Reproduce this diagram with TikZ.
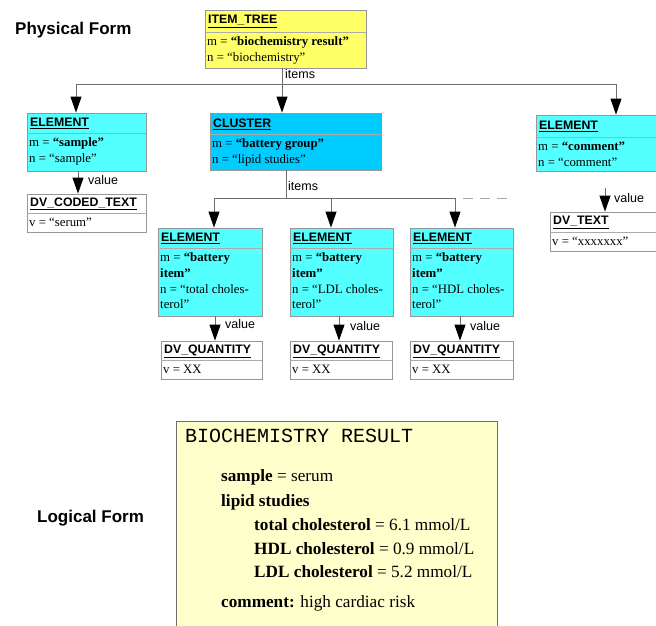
\documentclass[tikz,border=0pt]{standalone}
\usepackage{fontspec}
\setmainfont{Liberation Serif}
\setsansfont{Liberation Sans}
\setmonofont{Liberation Mono}
\usetikzlibrary{arrows.meta}

\definecolor{cyanelem}{RGB}{84,255,255}
\definecolor{cyanclus}{RGB}{0,204,255}
\definecolor{yellowtree}{RGB}{255,255,102}
\definecolor{paleyellow}{RGB}{255,255,204}
\definecolor{edgegray}{RGB}{150,150,150}
\definecolor{linegray}{RGB}{110,110,110}

\tikzset{
  box/.style={draw=edgegray, line width=0.8pt, rectangle, inner sep=0pt},
  sepline/.style={draw=edgegray!80, line width=0.7pt},
  hdr/.style={font=\sffamily\bfseries\fontsize{12.3}{14}\selectfont, inner sep=0pt, anchor=west},
  body/.style={font=\fontsize{12.8}{15.8}\selectfont, align=left, inner sep=0pt, anchor=north west},
  lbl/.style={font=\sffamily\fontsize{12.5}{14}\selectfont, inner sep=0pt, anchor=west},
  title/.style={font=\sffamily\bfseries\fontsize{17}{20}\selectfont, inner sep=0pt, anchor=west},
  conn/.style={draw=linegray, line width=0.9pt},
  arr/.style={conn, -{Triangle[length=16pt,width=11pt,color=black]}},
  lform/.style={font=\fontsize{17.2}{20}\selectfont, inner sep=0pt, anchor=base west},
}

% #1 name, #2 x1, #3 y1, #4 x2, #5 y2, #6 separator y, #7 fill, #8 header, #9 body
\newcommand\classbox[9]{%
  \node[box, fill=#7, minimum width={#4-#2}, minimum height={#5-#3}]
    (#1) at ({(#2+#4)/2},{(#3+#5)/2}) {};
  \draw[sepline] (#2,#6) -- (#4,#6);
  \node[hdr] (#1-h) at ({#2+3},{(#3+#6)/2+0.5}) {\underline{#8}};
  \node[body] (#1-b) at ({#2+2},{#6+4.5}) {#9};
}

\begin{document}
\begin{tikzpicture}[x=1pt,y=-1pt]
\useasboundingbox (0,0) rectangle (656,626);

% titles
\node[title] (phys) at (15,30) {Physical Form};
\node[title] (logi) at (37,518) {Logical Form};

% physical form boxes
\classbox{itree}{205}{10}{366}{68}{32}{yellowtree}{ITEM\_TREE}
  {m = \textbf{“biochemistry result”}\\n = “biochemistry”}
\classbox{esample}{27}{113}{146}{171}{133}{cyanelem}{ELEMENT}
  {m = \textbf{“sample”}\\n = “sample”}
\classbox{cluster}{210}{113}{381}{170}{134}{cyanclus}{CLUSTER}
  {m = \textbf{“battery group”}\\n = “lipid studies”}
\classbox{ecomment}{536}{115}{662}{171}{137}{cyanelem}{ELEMENT}
  {m = \textbf{“comment”}\\n = “comment”}
\classbox{dvcoded}{27}{194}{146}{232}{213}{white}{DV\_CODED\_TEXT}
  {v = “serum”}
\classbox{dvtext}{550}{212}{662}{251}{232}{white}{DV\_TEXT}
  {v = “xxxxxxx”}
\classbox{etotal}{158}{228}{262}{316}{248}{cyanelem}{ELEMENT}
  {m = \textbf{“battery}\\\textbf{item”}\\n = “total choles-\\terol”}
\classbox{eldl}{290}{228}{393}{316}{248}{cyanelem}{ELEMENT}
  {m = \textbf{“battery}\\\textbf{item”}\\n = “LDL choles-\\terol”}
\classbox{ehdl}{410}{228}{513}{316}{248}{cyanelem}{ELEMENT}
  {m = \textbf{“battery}\\\textbf{item”}\\n = “HDL choles-\\terol”}
\classbox{qtotal}{161}{341}{262}{379}{360}{white}{DV\_QUANTITY}{v = XX}
\classbox{qldl}{290}{341}{392}{379}{360}{white}{DV\_QUANTITY}{v = XX}
\classbox{qhdl}{410}{341}{513}{379}{360}{white}{DV\_QUANTITY}{v = XX}

% items of the item tree
\coordinate (bus1) at (282,84);
\coordinate (bus1l) at (76,84);
\coordinate (bus1r) at (616,84);
\draw[conn] (itree.south -| bus1) -- (bus1);
\draw[conn] (bus1l) -- (bus1r);
\draw[arr] (bus1l) -- (esample.north -| bus1l);
\draw[arr] (bus1) -- (cluster.north -| bus1);
\draw[arr] (bus1r) -- (ecomment.north -| bus1r);
\node[lbl] (items1) at (285,74) {items};

% items of the cluster
\coordinate (bus2) at (286,198);
\coordinate (bus2a) at (214,198);
\coordinate (bus2b) at (331,198);
\coordinate (bus2c) at (455,198);
\coordinate (bus2d) at (512,198);
\draw[conn] (cluster.south -| bus2) -- (bus2);
\draw[conn] (bus2a) -- (bus2c);
\draw[conn, draw=linegray!60, dash pattern=on 10pt off 7pt] ([xshift=8pt]bus2c) -- (bus2d);
\draw[arr] (bus2a) -- (etotal.north -| bus2a);
\draw[arr] (bus2b) -- (eldl.north -| bus2b);
\draw[arr] (bus2c) -- (ehdl.north -| bus2c);
\node[lbl] (items2) at (288,186) {items};

% values
\coordinate (vs) at (78,171);
\draw[arr] (esample.south -| vs) -- (dvcoded.north -| vs);
\node[lbl] (val1) at (88,180) {value};

\coordinate (vc) at (605,188);
\draw[arr] (vc) -- (dvtext.north -| vc);
\node[lbl] (val2) at (614,198) {value};

\coordinate (vt) at (215,0);
\coordinate (vl) at (339,0);
\coordinate (vh) at (460,0);
\draw[arr] (etotal.south -| vt) -- (qtotal.north -| vt);
\draw[arr] (eldl.south -| vl) -- (qldl.north -| vl);
\draw[arr] (ehdl.south -| vh) -- (qhdl.north -| vh);
\node[lbl] (val3) at (225,324) {value};
\node[lbl] (val4) at (350,326) {value};
\node[lbl] (val5) at (470,326) {value};

% logical form
\node[draw=linegray, line width=1pt, fill=paleyellow, minimum width=321, minimum height=212, inner sep=0pt]
  (lbox) at (336.5,527) {};
\node[font=\ttfamily\fontsize{20}{22}\selectfont, inner sep=0pt, anchor=west] (ltitle) at (185,436) {BIOCHEMISTRY RESULT};
\node[lform] (l1) at (221,481) {\textbf{sample} = serum};
\node[lform] (l2) at (221,506) {\textbf{lipid studies}};
\node[lform] (l3) at (254,530) {\textbf{total cholesterol} = 6.1 mmol/L};
\node[lform] (l4) at (254,554) {\textbf{HDL cholesterol} = 0.9 mmol/L};
\node[lform] (l5) at (254,577) {\textbf{LDL cholesterol} = 5.2 mmol/L};
\node[lform] (l6) at (221,607) {\textbf{comment:} high cardiac risk};
\end{tikzpicture}
\end{document}
